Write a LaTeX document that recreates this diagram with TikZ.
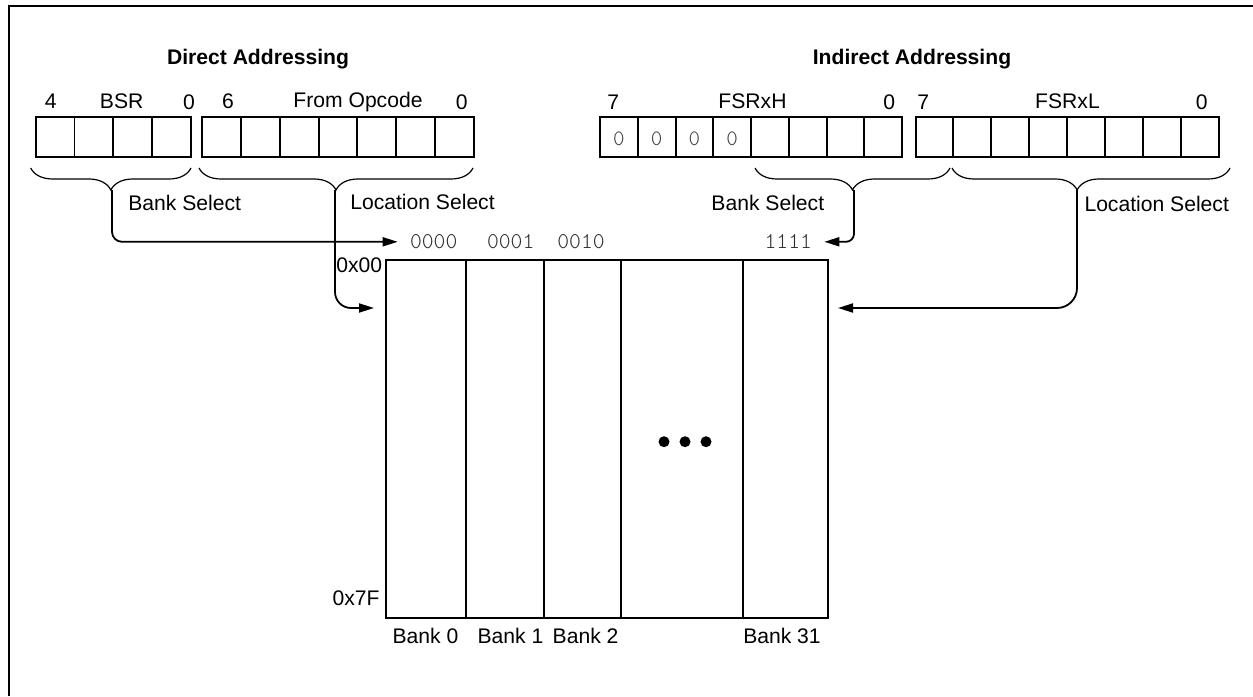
\documentclass[tikz,border=0pt]{standalone}
\usepackage{fontspec}
\setmainfont{Liberation Sans}
\newfontfamily\bitfont{Latin Modern Mono Light}
\usetikzlibrary{arrows.meta,decorations.pathreplacing}
\tikzset{
    reg/.style={line width=1pt},
    bank/.style={draw, line width=1.2pt, inner sep=0pt, anchor=north west,
                 minimum height=179.2bp},
    lbl/.style={inner sep=0pt, anchor=base, font=\fontsize{10.6}{12}\selectfont},
    head/.style={lbl, font=\fontsize{10.6}{12}\selectfont\bfseries},
    bits/.style={inner sep=6bp, text=black!82, font=\bitfont\fontsize{11.3}{12}\selectfont},
    zero/.style={inner sep=0pt, text=black!75, font=\bitfont\fontsize{11}{12}\selectfont},
    brc/.style={line width=0.6pt, decorate,
                decoration={brace, mirror, amplitude=11bp}},
    conn/.style={line width=0.9pt, -{Triangle[length=7.5bp,width=4.5bp]}}
}

\begin{document}
\begin{tikzpicture}[x=0.5bp,y=-0.5bp]
    \useasboundingbox (0,0) rectangle (1253,696);
    \draw[line width=1bp] (9,696) -- (9,6) -- (1253,6);

    % headings
    \node[head] (dirhead) at (258,64) {Direct Addressing};
    \node[head] (indhead) at (912,64) {Indirect Addressing};

    % registers
    \foreach \x/\n/\w in {35.7/4/38.8, 201.7/7/38.94, 600/8/37.75, 915.5/8/37.94}
        \foreach \k in {1,...,\n}
            \draw[reg] ({\x+(\k-1)*\w},116.7) rectangle ++(\w,40.6);
    \foreach \k in {0,...,3}
        \node[zero] (zero\k) at ({600+37.75*(\k+0.5)},139.3) {0};

    % register labels
    \node[lbl] (bsrhi) at (50.7,109) {4};
    \node[lbl] (bsr) at (121.7,109) {BSR};
    \node[lbl] (bsrlo) at (189,110) {0};
    \node[lbl] (opchi) at (228,109) {6};
    \node[lbl] (opc) at (358,107.7) {From Opcode};
    \node[lbl] (opclo) at (461.7,109.5) {0};
    \node[lbl] (fsrhhi) at (613.3,109.3) {7};
    \node[lbl] (fsrh) at (752.5,109) {FSRxH};
    \node[lbl] (fsrhlo) at (889.3,109.3) {0};
    \node[lbl] (fsrlhi) at (923.3,109.3) {7};
    \node[lbl] (fsrl) at (1067.5,109) {FSRxL};
    \node[lbl] (fsrllo) at (1201.7,109.3) {0};

    % braces
    \draw[brc] (30.7,168) -- (191,168);
    \draw[brc] (199,168) -- (473,168);
    \draw[brc] (755,168) -- (950,168);
    \draw[brc, decoration={aspect=0.45}] (952,168) -- (1230,168);
    \coordinate (bsrtip) at (112,190);
    \coordinate (opctip) at (335,190);
    \coordinate (fsrhtip) at (854,190);
    \coordinate (fsrltip) at (1077,190);

    \node[lbl] (dirbank) at (184.7,210) {Bank Select};
    \node[lbl] (dirloc) at (422.5,209.5) {Location Select};
    \node[lbl] (indbank) at (767.8,210) {Bank Select};
    \node[lbl] (indloc) at (1156.7,211) {Location Select};

    % data memory
    \foreach \x/\w/\name in {385/40/bk0, 465/39/bk1, 543/38.5/bk2, 620/61/bkdots, 742/42.5/bk31}
        \node[bank, minimum width=\w bp] (\name) at (\x,258.6) {};
    \node[bits] (m0) at (433.7,241.8) {0000};
    \node[bits] (m1) at (510.7,241.8) {0001};
    \node[bits] (m2) at (581,241.8) {0010};
    \node[bits] (m31) at (788.3,241.8) {1111};
    \node[lbl, anchor=base east] (firstaddr) at (382.5,272.6) {0x00};
    \node[lbl, anchor=base east] (lastaddr) at (380,605) {0x7F};
    \node[lbl] (lbk0) at (425.5,643) {Bank 0};
    \node[lbl] (lbk1) at (510.5,643) {Bank 1};
    \node[lbl] (lbk2) at (585.6,643) {Bank 2};
    \node[lbl] (lbk31) at (782,643) {Bank 31};
    \fill (664,441.7) circle [radius=2.75bp]
          (685,441.7) circle [radius=2.75bp]
          (706,441.7) circle [radius=2.75bp];

    % connectors
    \coordinate (locL) at (374,308);
    \coordinate (locR) at (838,308);
    \draw[conn, rounded corners=5bp] (bsrtip) |- (m0.west);
    \draw[conn, rounded corners=8bp] (opctip) |- (locL);
    \draw[conn, rounded corners=4bp] (fsrhtip) |- (m31.east);
    \draw[conn, rounded corners=10bp] (fsrltip) |- (locR);
\end{tikzpicture}
\end{document}
